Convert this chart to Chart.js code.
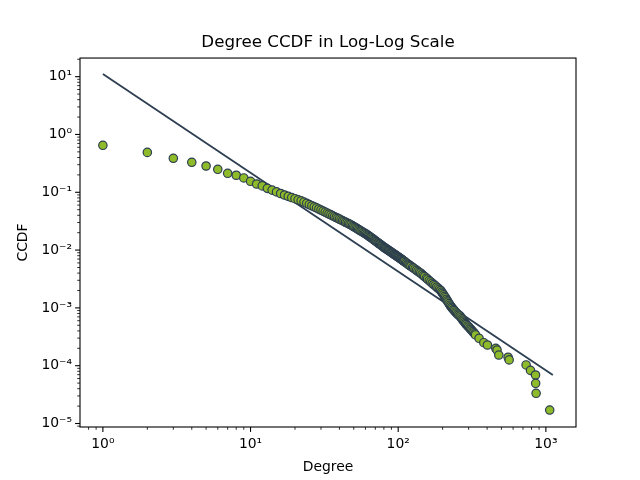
<!DOCTYPE html>
<html>
<head>
<meta charset="utf-8">
<script src="https://cdn.jsdelivr.net/npm/chart.js@4/dist/chart.umd.min.js"></script>
<style>
  html, body { margin: 0; padding: 0; background: #fff; }
  #chart { display: block; }
</style>
</head>
<body>
<canvas id="chart" width="640" height="480"></canvas>
<script>
// degree values and their CCDF (rows of ten line up)
var degrees = [
  1, 2, 3, 4, 5, 6, 7, 8, 9, 10,
  11, 12, 13, 14, 15, 16, 17, 18, 19, 20,
  21, 22, 23, 24, 25, 26, 27, 28, 29, 30,
  31, 32, 33, 34, 35, 36, 37, 38, 39, 40,
  41, 42, 43, 44, 45, 46, 47, 48, 49, 50,
  51, 52, 53, 54, 55, 56, 57, 58, 59, 60,
  61, 62, 63, 64, 65, 66, 67, 68, 69, 70,
  71, 72, 73, 74, 75, 76, 77, 78, 79, 80,
  81, 82, 83, 84, 85, 86, 87, 88, 89, 90,
  91, 92, 93, 94, 95, 96, 97, 98, 99, 100,
  101, 102, 103, 104, 105, 106, 107, 108, 109, 110,
  112, 114, 116, 118, 120, 122, 125, 127, 130, 133,
  136, 139, 142, 145, 148, 151, 155, 158, 162, 166,
  170, 174, 178, 182, 186, 190, 194, 197, 200, 203,
  206, 209, 212, 215, 218, 221, 224, 227, 230, 233,
  237, 240, 244, 248, 252, 257, 262, 266, 270, 274,
  278, 282, 286, 290, 295, 300, 305, 310, 315, 320,
  325, 330, 334, 353, 380, 402, 458, 467, 480, 555,
  564, 735, 787, 851, 853, 859, 1062
];
var ccdf = [
  0.65, 0.49, 0.387, 0.33, 0.285, 0.25, 0.213, 0.197, 0.177, 0.155,
  0.139, 0.129, 0.117, 0.109, 0.1016, 0.0953, 0.0897, 0.0851, 0.0811, 0.0774,
  0.0741, 0.0713, 0.0676, 0.0643, 0.0614, 0.0585, 0.0560, 0.0537, 0.0514, 0.0492,
  0.0472, 0.0454, 0.0437, 0.0421, 0.0406, 0.0392, 0.0378, 0.0366, 0.0354, 0.0343,
  0.0332, 0.0322, 0.0313, 0.0303, 0.0295, 0.0287, 0.0279, 0.0272, 0.0263, 0.0255,
  0.0247, 0.0240, 0.0233, 0.0226, 0.0220, 0.0214, 0.0208, 0.0202, 0.0197, 0.0192,
  0.0187, 0.0182, 0.0177, 0.0171, 0.01667, 0.0162, 0.01574, 0.0153, 0.01489, 0.0145,
  0.01409, 0.0137, 0.01337, 0.0130, 0.01271, 0.0124, 0.01208, 0.0118, 0.01151, 0.0112,
  0.01098, 0.01075, 0.0105, 0.0103, 0.01009, 0.00989, 0.00968, 0.0095, 0.00931, 0.00914,
  0.00896, 0.00879, 0.00863, 0.00847, 0.0083, 0.00815, 0.00801, 0.00787, 0.00773, 0.00759,
  0.00746, 0.00733, 0.00721, 0.00708, 0.00695, 0.00683, 0.0067, 0.00659, 0.00647, 0.00636,
  0.00615, 0.00594, 0.00575, 0.00558, 0.0054, 0.00525, 0.00501, 0.00488, 0.00467, 0.00448,
  0.0043, 0.00413, 0.00398, 0.0038, 0.00363, 0.00348, 0.00328, 0.00314, 0.00297, 0.00282,
  0.00267, 0.00254, 0.00242, 0.0023, 0.00219, 0.00209, 0.002, 0.00188, 0.00178, 0.00168,
  0.00158, 0.0015, 0.00141, 0.00133, 0.00126, 0.00119, 0.00112, 0.00107, 0.00102, 0.000984,
  0.000933, 0.000897, 0.000851, 0.000817, 0.000783, 0.000753, 0.000724, 0.000684, 0.000646, 0.000617,
  0.000589, 0.000562, 0.000537, 0.000513, 0.00049, 0.000468, 0.000447, 0.000427, 0.000407, 0.000389,
  0.000372, 0.000355, 0.00034, 0.000298, 0.00025, 0.000228, 0.0002, 0.000187, 0.000153, 0.00014,
  0.000126, 0.000103, 0.000083, 0.000069, 0.0000495, 0.0000333, 0.0000171
];

// fitted power-law line (two ends)
var fitDegrees = [1, 1115];
var fitCcdf = [11.1, 0.000069];

// axis ticks
var xTicks = [1, 10, 100, 1000];
var xTickLabels = ['10\u2070', '10\u00b9', '10\u00b2', '10\u00b3'];
var yTicks = [1e-5, 1e-4, 1e-3, 1e-2, 1e-1, 1, 10];
var yTickLabels = ['10\u207b\u2075', '10\u207b\u2074', '10\u207b\u00b3', '10\u207b\u00b2', '10\u207b\u00b9', '10\u2070', '10\u00b9'];

var xMin = 0.71, xMax = 1600;
var yMin = 8.7e-6, yMax = 21;

var pointFill = '#8fbb2b';
var darkBlue = '#2c3e50';

function withMinor(majors, lo, hi) {
  var out = [];
  var first = majors[0] / 10;
  [first].concat(majors).forEach(function (m) {
    for (var k = 1; k <= 9; k++) {
      var v = m * k;
      if (v >= lo && v <= hi) out.push({ value: v, major: k === 1 });
    }
  });
  return out;
}

function labelFor(ticks, labels) {
  return function (value) {
    for (var i = 0; i < ticks.length; i++) {
      if (Math.abs(value / ticks[i] - 1) < 1e-6) return labels[i];
    }
    return '';
  };
}

// matplotlib centres the title over the axes, not the canvas
var titleOverAxes = {
  id: 'titleOverAxes',
  afterLayout: function (chart) {
    var tb = chart.titleBlock;
    if (!tb) return;
    tb.left = chart.chartArea.left;
    tb.right = chart.chartArea.right;
    tb.width = tb.right - tb.left;
  }
};

var framePlugin = {
  id: 'frame',
  afterDraw: function (chart) {
    var ctx = chart.ctx, a = chart.chartArea;
    ctx.save();
    ctx.strokeStyle = '#000';
    ['x', 'y'].forEach(function (id) {
      var s = chart.scales[id];
      s.ticks.forEach(function (t) {
        var p = s.getPixelForValue(t.value);
        var len = t.major ? 4.9 : 2.8;
        ctx.lineWidth = t.major ? 1.1 : 0.8;
        ctx.beginPath();
        if (id === 'x') {
          ctx.moveTo(p, a.bottom);
          ctx.lineTo(p, a.bottom + len);
        } else {
          ctx.moveTo(a.left, p);
          ctx.lineTo(a.left - len, p);
        }
        ctx.stroke();
      });
    });
    ctx.lineWidth = 1.1;
    ctx.strokeRect(a.left, a.top, a.right - a.left, a.bottom - a.top);
    ctx.restore();
  }
};

Chart.defaults.font.family = "'DejaVu Sans', sans-serif";
Chart.defaults.color = '#000';

var points = degrees.map(function (d, i) { return { x: d, y: ccdf[i] }; });
var fit = fitDegrees.map(function (d, i) { return { x: d, y: fitCcdf[i] }; });

new Chart(document.getElementById('chart').getContext('2d'), {
  type: 'scatter',
  data: {
    datasets: [{
      label: 'CCDF',
      data: points,
      backgroundColor: pointFill,
      borderColor: darkBlue,
      pointRadius: 4.2,
      pointBorderWidth: 1.2,
      showLine: false
    }, {
      label: 'fit',
      data: fit,
      showLine: true,
      borderColor: darkBlue,
      borderWidth: 1.8,
      pointRadius: 0,
      fill: false
    }]
  },
  options: {
    responsive: false,
    animation: false,
    devicePixelRatio: 1,
    layout: { padding: { left: 0, right: 64, top: 0, bottom: 0 } },
    plugins: {
      legend: { display: false },
      tooltip: { enabled: false },
      title: {
        display: true,
        text: 'Degree CCDF in Log-Log Scale',
        font: { size: 16.7, weight: 'normal' },
        padding: { top: 33, bottom: 5 }
      }
    },
    scales: {
      x: {
        type: 'logarithmic',
        min: xMin,
        max: xMax,
        grid: { display: false, drawTicks: false },
        border: { display: false },
        afterBuildTicks: function (s) { s.ticks = withMinor(xTicks, xMin, xMax); },
        afterFit: function (s) { s.height = 53; s.paddingLeft = 0; s.paddingRight = 0; },
        ticks: {
          autoSkip: false,
          maxRotation: 0,
          padding: 9,
          font: { size: 13.9 },
          callback: labelFor(xTicks, xTickLabels)
        },
        title: {
          display: true,
          text: 'Degree',
          font: { size: 13.9 },
          padding: { top: 0, bottom: 4.7 }
        }
      },
      y: {
        type: 'logarithmic',
        min: yMin,
        max: yMax,
        grid: { display: false, drawTicks: false },
        border: { display: false },
        afterBuildTicks: function (s) { s.ticks = withMinor(yTicks, yMin, yMax); },
        afterFit: function (s) { s.width = 80; s.paddingTop = 0; s.paddingBottom = 0; },
        ticks: {
          autoSkip: false,
          padding: 8,
          font: { size: 13.9 },
          callback: labelFor(yTicks, yTickLabels)
        },
        title: {
          display: true,
          text: 'CCDF',
          font: { size: 13.9 },
          padding: { top: 15.5, bottom: 0 }
        }
      }
    }
  },
  plugins: [titleOverAxes, framePlugin]
});
</script>
</body>
</html>
